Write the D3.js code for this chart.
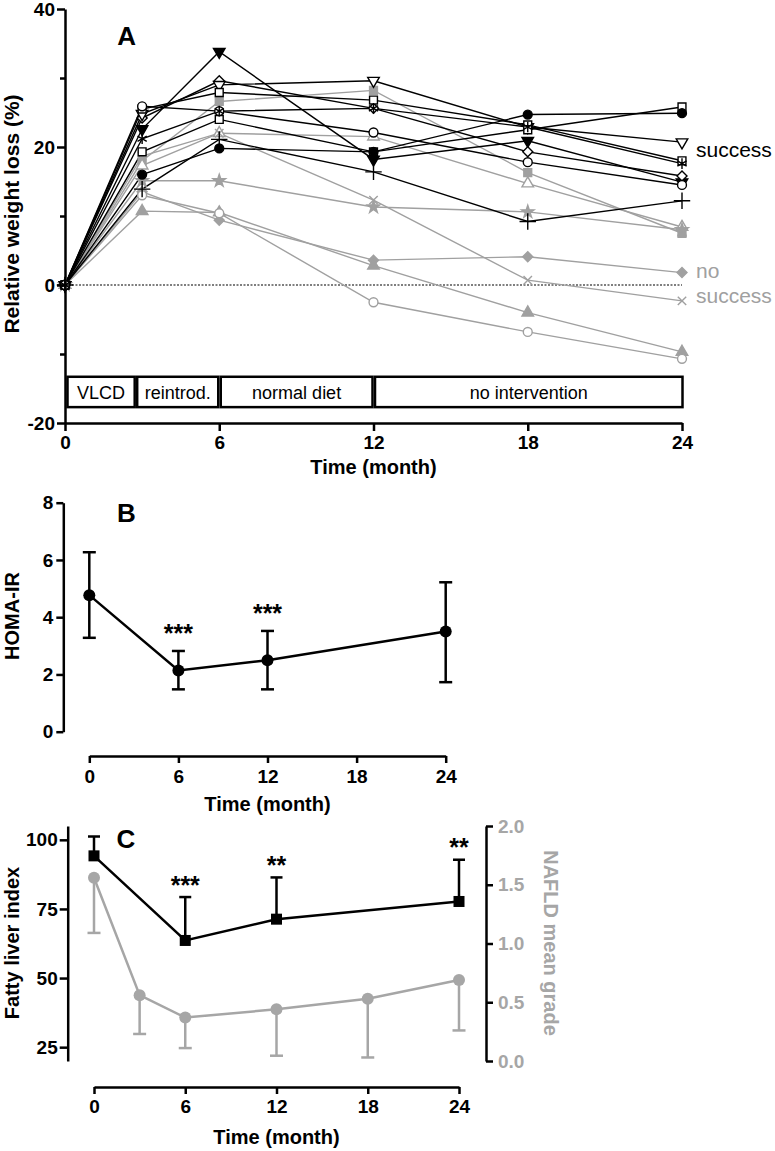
<!DOCTYPE html>
<html><head><meta charset="utf-8">
<script src="https://cdn.jsdelivr.net/npm/d3@7"></script>
<style>
body{margin:0;background:#fff;}
svg{display:block;font-family:Arial,"Liberation Sans",sans-serif;}
</style></head><body>
<svg id="c" width="775" height="1151"></svg>
<script>
// ---------- Panel A data ----------
const months = [0, 3, 6, 12, 18, 24];
// success (black)
const sFilledDownTri = [0, 22.6, 33.8, 18.2, 20.9, 14.9];
const sOpenDiamond   = [0, 24.2, 29.6, 25.6, 19.3, 15.8];
const sOpenDownTri   = [0, 24.8, 29.0, 29.6, 22.9, 20.7];
const sOpenSquareA   = [0, 25.5, 27.9, 26.8, 23.2, 18.0];
const sOpenSquareB   = [0, 19.3, 24.0, 19.3, 22.5, 25.8];
const sFilledCircle  = [0, 16.0, 19.8, 19.3, 24.7, 24.9];
const sOpenCircle    = [0, 25.9, 25.2, 22.1, 17.8, 14.5];
const sAsterisk      = [0, 21.2, 25.2, 25.6, 22.9, 17.6];
const sPlus          = [0, 13.9, 21.1, 16.4, 9.2, 12.2];
// no success (grey)
const nFilledSquare  = [0, 18.0, 26.6, 28.2, 16.3, 7.5];
const nOpenTri       = [0, 17.3, 22.0, 21.5, 14.7, 8.4];
const nTimes         = [0, 18.7, 22.0, 12.3, 0.7, -2.3];
const nStar          = [0, 15.1, 15.1, 11.3, 10.6, 8.0];
const nFilledDiamond = [0, 13.5, 9.4, 3.6, 4.1, 1.8];
const nFilledTri     = [0, 10.7, 10.5, 2.8, -4.0, -9.7];
const nOpenCircle    = [0, 13.0, 10.4, -2.5, -6.8, -10.7];

const phaseBounds = [0, 2.75, 6, 12, 24];
const phaseLabels = ["VLCD", "reintrod.", "normal diet", "no intervention"];
const aXTicks = [0, 6, 12, 18, 24];
const aYTicks = [-20, 0, 20, 40];
const aYMinor = [-10, 10, 30];

// ---------- Panel B data ----------
const homaMonths = [0, 6, 12, 24];
const homaMean   = [4.77, 2.14, 2.50, 3.50];
const homaLower  = [3.28, 1.48, 1.48, 1.73];
const homaUpper  = [6.27, 2.82, 3.52, 5.22];
const homaSig    = ["", "***", "***", ""];
const bYTicks = [0, 2, 4, 6, 8];

// ---------- Panel C data ----------
const fliMonths = [0, 6, 12, 24];
const fliMean   = [94.2, 63.6, 71.3, 77.7];
const fliUpper  = [101.2, 79.3, 86.4, 92.8];
const fliSig    = ["", "***", "**", "**"];
const nafldMonths = [0, 3, 6, 12, 18, 24];
const nafldMean   = [1.56, 0.56, 0.37, 0.44, 0.53, 0.69];
const nafldLower  = [1.09, 0.23, 0.11, 0.045, 0.03, 0.26];
const cYTicks = [25, 50, 75, 100];
const cY2Ticks = [0, 0.5, 1.0, 1.5, 2.0];

const BLACK = "#000", GREY = "#a0a0a0", GREYC = "#a6a6a6";
const TICKFS = 19;
const svg = d3.select("#c");
const hyphen = d => String(d).replace("\u2212", "-");

function styleAxis(g, sw, fs, color) {
  g.selectAll(".domain").attr("stroke", "#000").attr("stroke-width", sw);
  g.selectAll(".tick line").attr("stroke", "#000").attr("stroke-width", sw);
  g.selectAll(".tick text").attr("fill", color || "#000")
    .attr("font-size", fs).attr("font-weight", "bold")
    .attr("font-family", "Arial, 'Liberation Sans', sans-serif");
}

// ================= Panel A =================
const xA = d3.scaleLinear([0, 24], [65, 682]);
const yA = d3.scaleLinear([-20, 40], [423, 9]);

const series = [
  {v: nFilledSquare,  c: GREY, shape: "square", filled: true},
  {v: nOpenTri,       c: GREY, shape: "triangle", filled: false},
  {v: nTimes,         c: GREY, shape: "times"},
  {v: nStar,          c: GREY, shape: "star", filled: true},
  {v: nFilledDiamond, c: GREY, shape: "diamond", filled: true},
  {v: nFilledTri,     c: GREY, shape: "triangle", filled: true},
  {v: nOpenCircle,    c: GREY, shape: "circle", filled: false},
  {v: sFilledDownTri, c: BLACK, shape: "downtri", filled: true},
  {v: sOpenDiamond,   c: BLACK, shape: "diamond", filled: false},
  {v: sOpenDownTri,   c: BLACK, shape: "downtri", filled: false},
  {v: sOpenSquareA,   c: BLACK, shape: "square", filled: false},
  {v: sOpenSquareB,   c: BLACK, shape: "square", filled: false},
  {v: sFilledCircle,  c: BLACK, shape: "circle", filled: true},
  {v: sOpenCircle,    c: BLACK, shape: "circle", filled: false},
  {v: sAsterisk,      c: BLACK, shape: "asterisk"},
  {v: sPlus,          c: BLACK, shape: "plus"}
];

const shapeDefs = {
  square:   {t: d3.symbolSquare, s: 62, r: 0},
  triangle: {t: d3.symbolTriangle, s: 58, r: 0},
  downtri:  {t: d3.symbolTriangle, s: 58, r: 180},
  diamond:  {t: d3.symbolSquare, s: 50, r: 45},
  circle:   {t: d3.symbolCircle, s: 62, r: 0},
  star:     {t: d3.symbolStar, s: 48, r: 0},
  times:    {t: d3.symbolTimes, s: 48, r: 0, stroke: true},
  asterisk: {t: d3.symbolAsterisk, s: 80, r: 0, stroke: true},
  plus:     {t: d3.symbolPlus, s: 90, r: 0, stroke: true}
};

// zero dotted line
svg.append("line").attr("x1", xA(0)).attr("x2", xA(24))
  .attr("y1", yA(0)).attr("y2", yA(0))
  .attr("stroke", "#000").attr("stroke-width", 1.2).attr("stroke-dasharray", "2,1.5");

// phase boxes
const boxTop = yA(-13.3), boxBot = yA(-17.7);
phaseLabels.forEach((lab, i) => {
  const x0 = xA(phaseBounds[i]) + (i === 0 ? 2.5 : 1.5);
  const x1 = xA(phaseBounds[i + 1]) + (i === phaseLabels.length - 1 ? 0.5 : -1);
  svg.append("rect").attr("x", x0).attr("y", boxTop).attr("width", x1 - x0)
    .attr("height", boxBot - boxTop).attr("fill", "#fff")
    .attr("stroke", "#000").attr("stroke-width", 2.5);
  svg.append("text").attr("x", (x0 + x1) / 2).attr("y", boxTop + 22)
    .attr("text-anchor", "middle").attr("font-size", 18).text(lab);
});

const lineA = d3.line().x((d, i) => xA(months[i])).y(d => yA(d));
const gLines = svg.append("g");
series.forEach(s => {
  gLines.append("path").attr("d", lineA(s.v)).attr("fill", "none")
    .attr("stroke", s.c).attr("stroke-width", 1.4);
});
series.forEach(s => {
  const def = shapeDefs[s.shape];
  const p = d3.symbol(def.t, def.s)();
  s.v.forEach((d, i) => {
    const el = svg.append("path").attr("d", p)
      .attr("transform", `translate(${xA(months[i])},${yA(d)}) rotate(${def.r})`)
      .attr("stroke", s.c).attr("stroke-width", 1.4);
    if (def.stroke) el.attr("fill", "none");
    else el.attr("fill", s.filled ? s.c : "#fff");
  });
});

// axes A
const gAy = svg.append("g").attr("transform", `translate(${xA(0)},0)`)
  .call(d3.axisLeft(yA).tickValues(aYTicks).tickSize(8).tickPadding(2).tickSizeOuter(0).tickFormat(d => hyphen(d)));
styleAxis(gAy, 2.5, TICKFS);
const gAym = svg.append("g").attr("transform", `translate(${xA(0)},0)`)
  .call(d3.axisLeft(yA).tickValues(aYMinor).tickSize(5).tickFormat("").tickSizeOuter(0));
styleAxis(gAym, 2.5, TICKFS);
gAym.select(".domain").remove();
const gAx = svg.append("g").attr("transform", `translate(0,${yA(-20)})`)
  .call(d3.axisBottom(xA).tickValues(aXTicks).tickSize(8).tickPadding(5).tickSizeOuter(0));
styleAxis(gAx, 2.5, TICKFS);

svg.append("text").attr("x", 126.7).attr("y", 45).attr("text-anchor", "middle")
  .attr("font-size", 26).attr("font-weight", "bold").text("A");
svg.append("text").attr("transform", "translate(18.5,214) rotate(-90)")
  .attr("text-anchor", "middle").attr("font-size", 21).attr("font-weight", "bold")
  .text("Relative weight loss (%)");
svg.append("text").attr("x", xA(12)).attr("y", 474).attr("text-anchor", "middle")
  .attr("font-size", 20).attr("font-weight", "bold").text("Time (month)");
svg.append("text").attr("x", 696).attr("y", 157).attr("font-size", 21).attr("fill", "#000").text("success");
svg.append("text").attr("x", 696).attr("y", 278).attr("font-size", 21).attr("fill", GREY).text("no");
svg.append("text").attr("x", 696).attr("y", 303).attr("font-size", 21).attr("fill", GREY).text("success");

// ================= Panel B =================
const xB = d3.scaleLinear([0, 24], [89.3, 445.7]);
const yB = d3.scaleLinear([0, 8], [731.7, 502.7]);

const gBy = svg.append("g").attr("transform", "translate(63.3,0)")
  .call(d3.axisLeft(yB).tickValues(bYTicks).tickSize(7).tickPadding(3).tickSizeOuter(0));
styleAxis(gBy, 2.5, TICKFS);
const gBx = svg.append("g").attr("transform", "translate(0,756)")
  .call(d3.axisBottom(xB).tickValues(aXTicks).tickSize(7).tickPadding(7).tickSizeOuter(0));
styleAxis(gBx, 2.5, TICKFS);

// error bars
homaMonths.forEach((m, i) => {
  const x = xB(m);
  svg.append("line").attr("x1", x).attr("x2", x).attr("y1", yB(homaLower[i])).attr("y2", yB(homaUpper[i]))
    .attr("stroke", "#000").attr("stroke-width", 2.5);
  [homaLower[i], homaUpper[i]].forEach(v => {
    svg.append("line").attr("x1", x - 6.5).attr("x2", x + 6.5).attr("y1", yB(v)).attr("y2", yB(v))
      .attr("stroke", "#000").attr("stroke-width", 2.5);
  });
  if (homaSig[i]) {
    svg.append("text").attr("x", x).attr("y", yB(homaUpper[i]) - 9).attr("text-anchor", "middle")
      .attr("font-size", 25).attr("font-weight", "bold").text(homaSig[i]);
  }
});
svg.append("path").attr("d", d3.line().x((d, i) => xB(homaMonths[i])).y(d => yB(d))(homaMean))
  .attr("fill", "none").attr("stroke", "#000").attr("stroke-width", 2.5);
homaMean.forEach((v, i) => {
  svg.append("circle").attr("cx", xB(homaMonths[i])).attr("cy", yB(v)).attr("r", 6).attr("fill", "#000");
});
svg.append("text").attr("x", 126.5).attr("y", 521.7).attr("text-anchor", "middle")
  .attr("font-size", 26).attr("font-weight", "bold").text("B");
svg.append("text").attr("transform", "translate(18.5,616) rotate(-90)")
  .attr("text-anchor", "middle").attr("font-size", 20).attr("font-weight", "bold").text("HOMA-IR");
svg.append("text").attr("x", xB(12)).attr("y", 811).attr("text-anchor", "middle")
  .attr("font-size", 20).attr("font-weight", "bold").text("Time (month)");

// ================= Panel C =================
const xC = d3.scaleLinear([0, 24], [94, 459]);
const yC = d3.scaleLinear([20, 105], [1061, 826]);
const yC2 = d3.scaleLinear([0, 2], [1061, 826]);

const gCy = svg.append("g").attr("transform", "translate(67.7,0)")
  .call(d3.axisLeft(yC).tickValues(cYTicks).tickSize(8).tickPadding(2).tickSizeOuter(0));
styleAxis(gCy, 2.5, TICKFS);
const gCy2 = svg.append("g").attr("transform", "translate(486,0)")
  .call(d3.axisRight(yC2).tickValues(cY2Ticks).tickSize(7).tickPadding(5).tickFormat(d3.format(".1f")).tickSizeOuter(0));
styleAxis(gCy2, 2.5, TICKFS, GREYC);
const gCx = svg.append("g").attr("transform", "translate(0,1087)")
  .call(d3.axisBottom(xC).tickValues(aXTicks).tickSize(7).tickPadding(6).tickSizeOuter(0));
styleAxis(gCx, 2.5, TICKFS);

// grey NAFLD series
nafldMonths.forEach((m, i) => {
  const x = xC(m);
  svg.append("line").attr("x1", x).attr("x2", x).attr("y1", yC2(nafldMean[i])).attr("y2", yC2(nafldLower[i]))
    .attr("stroke", GREYC).attr("stroke-width", 2.5);
  svg.append("line").attr("x1", x - 6.5).attr("x2", x + 6.5).attr("y1", yC2(nafldLower[i])).attr("y2", yC2(nafldLower[i]))
    .attr("stroke", GREYC).attr("stroke-width", 2.5);
});
svg.append("path").attr("d", d3.line().x((d, i) => xC(nafldMonths[i])).y(d => yC2(d))(nafldMean))
  .attr("fill", "none").attr("stroke", GREYC).attr("stroke-width", 2.5);
nafldMean.forEach((v, i) => {
  svg.append("circle").attr("cx", xC(nafldMonths[i])).attr("cy", yC2(v)).attr("r", 6).attr("fill", GREYC);
});

// black FLI series
fliMonths.forEach((m, i) => {
  const x = xC(m);
  svg.append("line").attr("x1", x).attr("x2", x).attr("y1", yC(fliMean[i])).attr("y2", yC(fliUpper[i]))
    .attr("stroke", "#000").attr("stroke-width", 2.5);
  svg.append("line").attr("x1", x - 6).attr("x2", x + 6).attr("y1", yC(fliUpper[i])).attr("y2", yC(fliUpper[i]))
    .attr("stroke", "#000").attr("stroke-width", 2.5);
  if (fliSig[i]) {
    svg.append("text").attr("x", x).attr("y", yC(fliUpper[i]) - 3.5).attr("text-anchor", "middle")
      .attr("font-size", 25).attr("font-weight", "bold").text(fliSig[i]);
  }
});
svg.append("path").attr("d", d3.line().x((d, i) => xC(fliMonths[i])).y(d => yC(d))(fliMean))
  .attr("fill", "none").attr("stroke", "#000").attr("stroke-width", 2.5);
fliMean.forEach((v, i) => {
  svg.append("rect").attr("x", xC(fliMonths[i]) - 5.5).attr("y", yC(v) - 5.5)
    .attr("width", 11).attr("height", 11).attr("fill", "#000");
});

svg.append("text").attr("x", 126).attr("y", 848).attr("text-anchor", "middle")
  .attr("font-size", 26).attr("font-weight", "bold").text("C");
svg.append("text").attr("transform", "translate(18.5,943) rotate(-90)")
  .attr("text-anchor", "middle").attr("font-size", 20).attr("font-weight", "bold").text("Fatty liver index");
svg.append("text").attr("transform", "translate(543.5,943) rotate(90)")
  .attr("text-anchor", "middle").attr("font-size", 20).attr("font-weight", "bold")
  .attr("fill", GREYC).text("NAFLD mean grade");
svg.append("text").attr("x", xC(12)).attr("y", 1144).attr("text-anchor", "middle")
  .attr("font-size", 20).attr("font-weight", "bold").text("Time (month)");
</script>
</body></html>
